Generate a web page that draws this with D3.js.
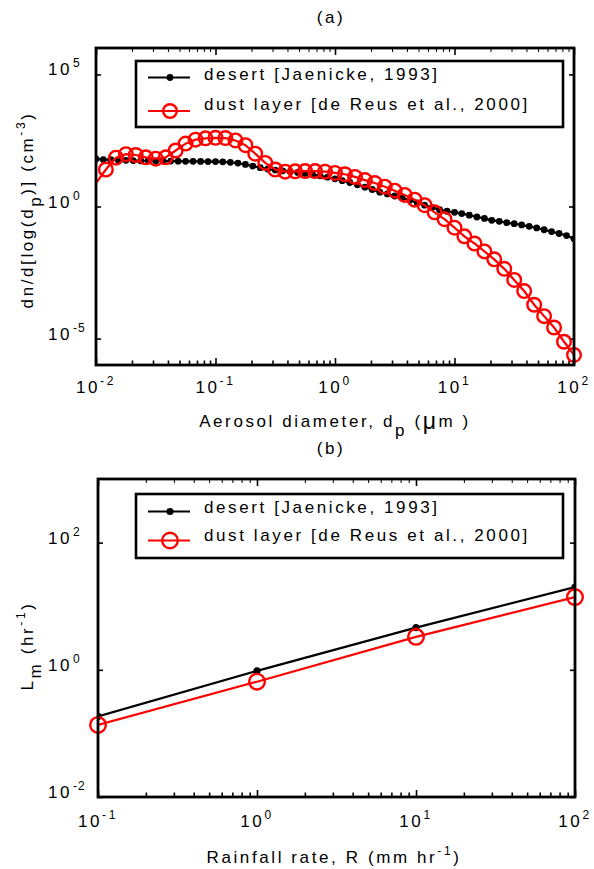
<!DOCTYPE html>
<html><head><meta charset="utf-8">
<script src="https://cdn.jsdelivr.net/npm/d3@7"></script>
<style>
body{margin:0;background:#fff}
svg text{font-family:"Liberation Sans",Arial,sans-serif;fill:#000}
</style></head><body>
<svg id="c" width="594" height="869"></svg>
<script>
// ---------- Panel (a) data ----------
const desertDiameter = [0.0100,0.0115,0.0133,0.0154,0.0178,0.0205,0.0237,0.0274,0.0316,0.0365,0.0422,0.0487,0.0562,0.0649,0.0750,0.0866,
  0.100,0.115,0.133,0.154,0.178,0.205,0.237,0.274,0.316,0.365,0.422,0.487,0.562,0.649,0.750,0.866,
  1.00,1.15,1.33,1.54,1.78,2.05,2.37,2.74,3.16,3.65,4.22,4.87,5.62,6.49,7.50,8.66,
  10.0,11.5,13.3,15.4,17.8,20.5,23.7,27.4,31.6,36.5,42.2,48.7,56.2,64.9,75.0,86.6,100];
const desertConc = [63,60,59,56,56,55,54,54,53,52.5,52.5,52,51.5,51.5,51,50,
  50,49,47,44,39,34,29.5,26.3,24,22.4,20.9,19.5,17.8,16.2,14.5,12.9,
  11.2,9.5,8.1,6.6,5.4,4.4,3.5,3.0,2.5,2.1,1.74,1.38,1.12,0.91,0.76,0.66,
  0.60,0.54,0.47,0.40,0.355,0.30,0.275,0.245,0.224,0.20,0.178,0.155,0.132,0.112,0.095,0.079,0.060];
const dustDiameter = [0.0095,0.0121,0.0147,0.0178,0.0215,0.0261,0.0316,0.0383,0.0464,0.0562,0.0681,0.0825,0.100,
  0.121,0.147,0.178,0.215,0.261,0.316,0.383,0.464,0.562,0.681,0.825,1.00,
  1.21,1.47,1.78,2.15,2.61,3.16,3.83,4.64,5.62,6.81,8.25,10.0,
  12.1,14.7,17.8,21.5,26.1,31.6,38.3,46.4,56.2,68.1,82.5,100];
const dustConc = [5.6,25.1,70.8,95.5,89.1,72.4,64.6,72.4,132,240,339,380,398,
  389,316,209,100,44.7,25.1,20.9,21.4,21.9,21.9,20.9,18.6,
  16.6,13.2,10.0,7.76,5.62,3.98,2.75,1.82,1.12,0.603,0.331,0.158,
  0.0741,0.0398,0.0200,0.0100,0.00437,0.00166,0.000631,0.000191,0.0000708,0.0000263,0.00000759,0.0000024];
const topXTicks = [0.01,0.1,1,10,100];
const topYTicks = [1e-5,1,1e5];

// ---------- Panel (b) data ----------
const rainRate = [0.1,1,10,100];
const desertLm = [0.185,0.96,4.6,20];
const dustLm = [0.136,0.65,3.3,13.9];
const botXTicks = [0.1,1,10,100];
const botYTicks = [1e-2,1,1e2];

const legendLabels = ["desert [Jaenicke, 1993]","dust layer [de Reus et al., 2000]"];
const seriesColors = ["#000000","#ff0000"];

const FS = 17, LS = 2.6;
const svg = d3.select("#c");

function tickLabelX(g, x, y, v) {
  const e = Math.round(Math.log10(v));
  const t = g.append("text").attr("x", x).attr("y", y).attr("text-anchor","middle")
    .attr("font-size", FS).attr("letter-spacing", LS);
  t.append("tspan").text("10");
  t.append("tspan").attr("dy", -8).attr("font-size", 12).text(e);
}
function tickLabelY(g, xEnd, y, v) {
  const e = Math.round(Math.log10(v));
  g.append("text").attr("x", xEnd).attr("y", y).attr("text-anchor","end")
    .attr("font-size", FS).attr("letter-spacing", LS).text("10");
  g.append("text").attr("x", xEnd+1).attr("y", y-8).attr("font-size", 12).attr("letter-spacing", 1).text(e);
}

function panel(o) {
  const x = d3.scaleLog().domain(o.xDomain).range([o.left, o.right]);
  const y = d3.scaleLog().domain(o.yDomain).range([o.bottom, o.top]);
  const g = svg.append("g");
  const clipId = "clip" + o.id;
  svg.append("clipPath").attr("id", clipId).append("rect")
    .attr("x", o.left).attr("y", o.top).attr("width", o.right - o.left).attr("height", o.bottom - o.top);

  const majors = o.xTicks;
  const minors = x.ticks().filter(v => Math.abs(Math.log10(v) - Math.round(Math.log10(v))) > 1e-6);
  const axStyle = s => { s.select(".domain").remove(); s.selectAll(".tick line").attr("stroke","#000").attr("stroke-width",1.6); };
  g.append("g").attr("transform",`translate(0,${o.bottom})`).call(d3.axisBottom(x).tickValues(majors).tickSize(-7).tickFormat("")).call(axStyle);
  g.append("g").attr("transform",`translate(0,${o.bottom})`).call(d3.axisBottom(x).tickValues(minors).tickSize(-4.5).tickFormat("")).call(axStyle);
  g.append("g").attr("transform",`translate(0,${o.top})`).call(d3.axisTop(x).tickValues(majors).tickSize(-7).tickFormat("")).call(axStyle);
  g.append("g").attr("transform",`translate(0,${o.top})`).call(d3.axisTop(x).tickValues(minors).tickSize(-4).tickFormat("")).call(s=>{axStyle(s); s.selectAll(".tick line").attr("stroke-width",1);});
  g.append("g").attr("transform",`translate(${o.left},0)`).call(d3.axisLeft(y).tickValues(o.yTicks).tickSize(-5).tickFormat("")).call(axStyle);
  g.append("g").attr("transform",`translate(${o.right},0)`).call(d3.axisRight(y).tickValues(o.yTicks).tickSize(-5).tickFormat("")).call(axStyle);

  majors.forEach(v => tickLabelX(g, x(v), o.bottom + o.xLabOff, v));
  o.yTicks.forEach(v => tickLabelY(g, o.left - o.yLabOff, y(v) + 1, v));

  // series
  const line = d3.line().x(d => x(d[0])).y(d => y(d[1]));
  o.series.forEach((s, i) => {
    const pts = s.x.map((v, j) => [v, s.y[j]]);
    const sg = g.append("g").attr("clip-path", `url(#${clipId})`);
    sg.append("path").attr("d", line(pts)).attr("fill","none").attr("stroke", seriesColors[i]).attr("stroke-width", 2.2);
    const inPts = pts.filter(p => p[0] >= o.xDomain[0] * 0.999);
    if (i === 0) {
      sg.selectAll(null).data(inPts).join("circle").attr("cx", d => x(d[0])).attr("cy", d => y(d[1]))
        .attr("r", o.dotR).attr("fill", "#000");
    } else {
      g.append("g").selectAll(null).data(inPts).join("circle").attr("cx", d => x(d[0])).attr("cy", d => y(d[1]))
        .attr("r", o.circR).attr("fill", "none").attr("stroke", "#ff0000").attr("stroke-width", 2.4);
    }
  });

  // frame
  g.append("rect").attr("x", o.left).attr("y", o.top).attr("width", o.right - o.left).attr("height", o.bottom - o.top)
    .attr("fill","none").attr("stroke","#000").attr("stroke-width",2.8);

  // legend
  const L = o.legend;
  g.append("rect").attr("x", L.x0).attr("y", L.y0).attr("width", L.x1 - L.x0).attr("height", L.y1 - L.y0)
    .attr("fill","#fff").attr("stroke","#000").attr("stroke-width",2.6);
  legendLabels.forEach((lab, i) => {
    const ly = L.rows[i];
    g.append("line").attr("x1",148).attr("x2",190).attr("y1",ly).attr("y2",ly).attr("stroke",seriesColors[i]).attr("stroke-width",2.2);
    if (i === 0) g.append("circle").attr("cx",170).attr("cy",ly).attr("r",o.dotR).attr("fill","#000");
    else g.append("circle").attr("cx",170).attr("cy",ly).attr("r",o.circR).attr("fill","none").attr("stroke","#ff0000").attr("stroke-width",2.4);
    g.append("text").attr("x",204).attr("y",L.textY[i]).attr("font-size",FS).attr("letter-spacing",LS).text(lab);
  });

  // title
  g.append("text").attr("x", o.titleX).attr("y", o.titleY).attr("text-anchor","middle").attr("font-size",FS).attr("letter-spacing",LS).text(o.title);
  return g;
}

// Panel (a)
const gA = panel({
  id: "a", left: 96, right: 574, top: 48, bottom: 365,
  xDomain: [0.01, 100], yDomain: [1e-6, 1e6], xTicks: topXTicks, yTicks: topYTicks,
  xLabOff: 28, yLabOff: 24, dotR: 3.4, circR: 6.8,
  series: [{x: desertDiameter, y: desertConc}, {x: dustDiameter, y: dustConc}],
  legend: {x0: 136, x1: 563, y0: 61, y1: 127, rows: [77.5, 111], textY: [80, 109.5]},
  title: "(a)", titleX: 331, titleY: 23
});
// axis titles (a)
{
  const t = gA.append("text").attr("x", 335).attr("y", 427).attr("text-anchor","middle").attr("font-size",FS).attr("letter-spacing",LS);
  t.append("tspan").text("Aerosol diameter, d");
  t.append("tspan").attr("dy", 9).attr("font-size", FS).text("p");
  t.append("tspan").attr("dy", -9).text(" (");
  t.append("tspan").attr("font-size", 23).attr("dy", 2).text("μ");
  t.append("tspan").attr("dy", -2).text("m )");
  const ty = gA.append("text").attr("transform","translate(33,210) rotate(-90)").attr("text-anchor","middle").attr("font-size",FS).attr("letter-spacing",LS);
  ty.append("tspan").text("dn/d[log(d");
  ty.append("tspan").attr("dy", 8).text("p");
  ty.append("tspan").attr("dy", -8).text(")] (cm");
  ty.append("tspan").attr("dy", -8).attr("font-size", 12).text("-3");
  ty.append("tspan").attr("dy", 8).text(")");
}

// Panel (b)
const gB = panel({
  id: "b", left: 98, right: 575, top: 479, bottom: 797,
  xDomain: [0.1, 100], yDomain: [1e-2, 1e3], xTicks: botXTicks, yTicks: botYTicks,
  xLabOff: 30, yLabOff: 26, dotR: 3.6, circR: 7.8,
  series: [{x: rainRate, y: desertLm}, {x: rainRate, y: dustLm}],
  legend: {x0: 136, x1: 563, y0: 494, y1: 558, rows: [511.5, 540.5], textY: [513, 541]},
  title: "(b)", titleX: 331, titleY: 454
});
{
  const t = gB.append("text").attr("x", 334).attr("y", 863).attr("text-anchor","middle").attr("font-size",FS).attr("letter-spacing",LS);
  t.append("tspan").text("Rainfall rate, R (mm hr");
  t.append("tspan").attr("dy", -8).attr("font-size", 12).text("-1");
  t.append("tspan").attr("dy", 8).text(")");
  const ty = gB.append("text").attr("transform","translate(33,646) rotate(-90)").attr("text-anchor","middle").attr("font-size",FS).attr("letter-spacing",LS);
  ty.append("tspan").text("L");
  ty.append("tspan").attr("dy", 8).text("m");
  ty.append("tspan").attr("dy", -8).text(" (hr");
  ty.append("tspan").attr("dy", -8).attr("font-size", 12).text("-1");
  ty.append("tspan").attr("dy", 8).text(")");
}
</script>
</body></html>
